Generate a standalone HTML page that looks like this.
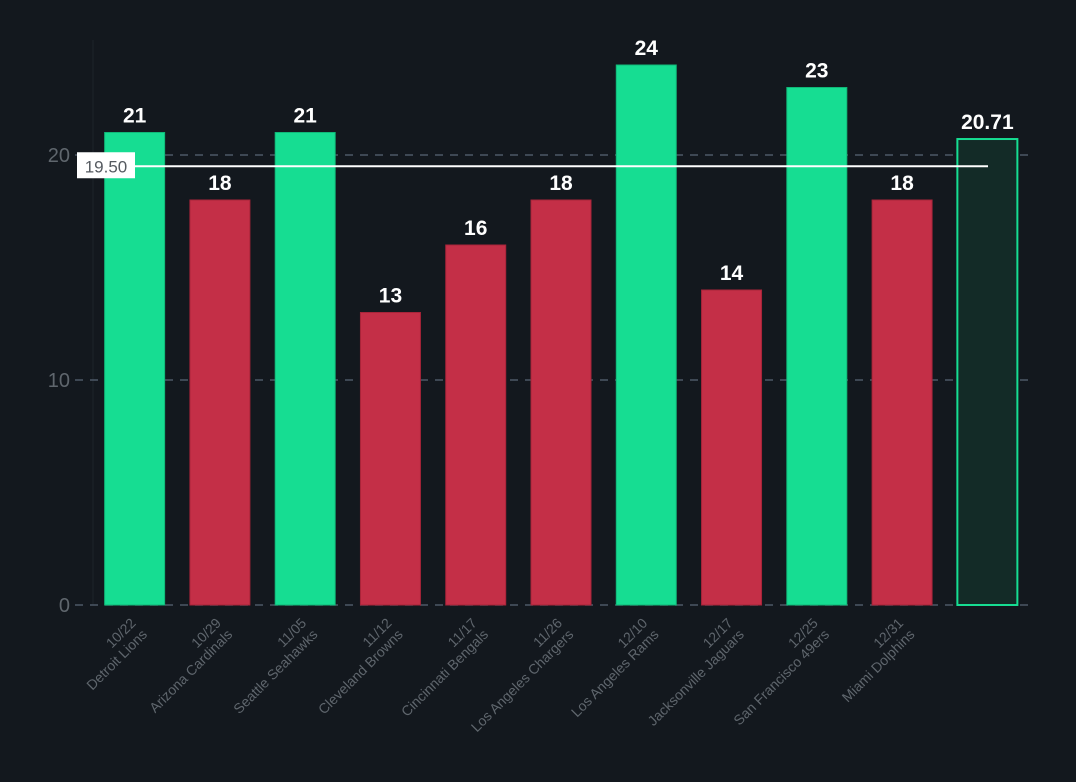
<!DOCTYPE html>
<html><head><meta charset="utf-8"><style>
html,body{margin:0;padding:0;background:#13181e;}
svg{display:block;font-family:"Liberation Sans",Arial,sans-serif;}
</style></head><body>
<svg id="chart" width="1076" height="782"></svg>
<script>
const dates=["10/22","10/29","11/05","11/12","11/17","11/26","12/10","12/17","12/25","12/31"];
const opponents=["Detroit Lions","Arizona Cardinals","Seattle Seahawks","Cleveland Browns","Cincinnati Bengals","Los Angeles Chargers","Los Angeles Rams","Jacksonville Jaguars","San Francisco 49ers","Miami Dolphins"];
const points=[21,18,21,13,16,18,24,14,23,18];
const averageValue=20.71;
const lineValue=19.50;
const yTicks=[0,10,20];

const NS="http://www.w3.org/2000/svg";
const svg=document.getElementById('chart');
const plotL=92,plotR=1030,y0=605,pxPer=22.5;
const n=points.length+1;
const band=(plotR-plotL)/n;
const barW=60;
function y(v){return y0-v*pxPer;}
function xc(i){return plotL+band*(i+0.5);}
function mk(tag,attrs,parent){const e=document.createElementNS(NS,tag);for(const k in attrs)e.setAttribute(k,attrs[k]);(parent||svg).appendChild(e);return e;}

const axis=mk('line',{x1:plotL+1,y1:40,x2:plotL+1,y2:y0,stroke:'#1c232b','stroke-width':1});



yTicks.forEach(t=>{
  const g=mk('line',{x1:75,x2:plotR,y1:y(t),y2:y(t),stroke:'#4c5866','stroke-width':1.5,'stroke-dasharray':'8,7'});
  
  
  const tx=mk('text',{x:70,y:y(t)+7,'text-anchor':'end','font-size':20,fill:'#5f666d'});
  tx.textContent=t;
  
  
});

points.forEach((v,i)=>{
  const win=v>=21;
  const r=mk('rect',{x:xc(i)-barW/2,y:y(v),width:barW,height:y0-y(v),fill:win?'#16dd92':'#c42f47',stroke:win?'#10b878':'#a82439','stroke-width':1});
  
  
  const t=mk('text',{x:xc(i),y:y(v)-10,'text-anchor':'middle','font-size':21,'font-weight':'bold',fill:'#ffffff'});
  t.textContent=v;
  
  
  const cx=xc(i)+2,cy=624;
  const lab=mk('text',{transform:`translate(${cx},${cy}) rotate(-45)`,'text-anchor':'end','font-size':14,fill:'#5f666d'});
  
  
  const s1=mk('tspan',{x:0,y:0},lab);s1.textContent=dates[i];
  const s2=mk('tspan',{x:0,dy:16},lab);s2.textContent=opponents[i];
});

const ai=points.length;
const ab=mk('rect',{x:xc(ai)-barW/2,y:y(averageValue),width:barW,height:y0-y(averageValue),fill:'#132b27',stroke:'#16dd92','stroke-width':2});


const at=mk('text',{x:xc(ai),y:y(averageValue)-10,'text-anchor':'middle','font-size':21,'font-weight':'bold',fill:'#ffffff'});
at.textContent=averageValue.toFixed(2);



const rl=mk('line',{x1:77,x2:988,y1:y(lineValue),y2:y(lineValue),stroke:'#ffffff','stroke-width':2});


const rb=mk('rect',{x:77,y:y(lineValue)-14,width:58,height:26,fill:'#ffffff'});


const rt=mk('text',{x:106,y:y(lineValue)+6,'text-anchor':'middle','font-size':17,fill:'#555a60'});
rt.textContent=lineValue.toFixed(2);


</script>
</body></html>
